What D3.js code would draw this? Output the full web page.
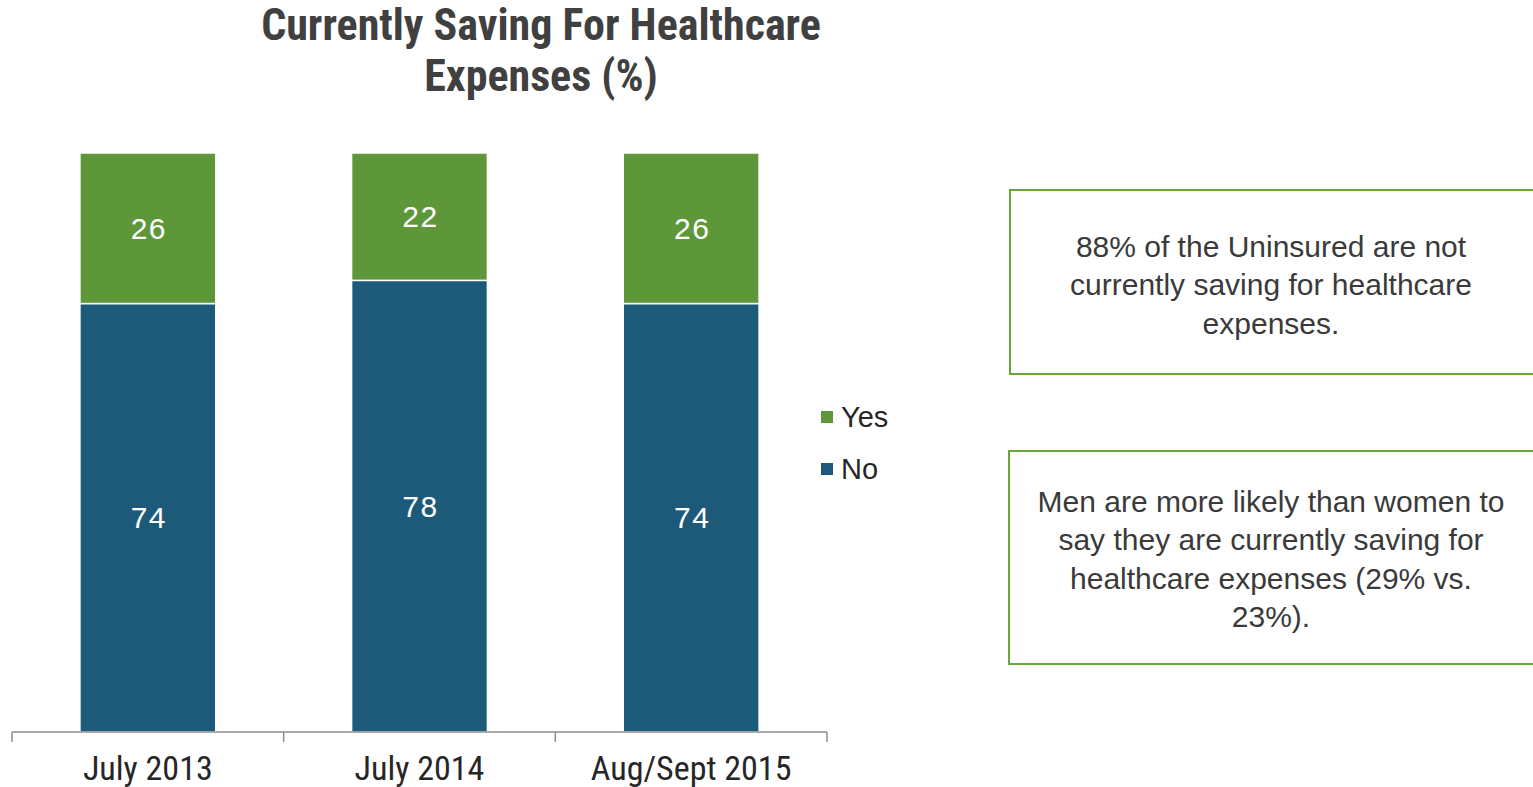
<!DOCTYPE html>
<html><head><meta charset="utf-8">
<script src="https://cdn.jsdelivr.net/npm/d3@7"></script>
<style>
html,body{margin:0;padding:0;background:#fff;}
svg{display:block;}
</style></head>
<body>
<svg id="c" width="1533" height="787"></svg>
<script>
const categories = ["July 2013", "July 2014", "Aug/Sept 2015"];
const noValues = [74, 78, 74];
const yesValues = [26, 22, 26];
const seriesNames = ["Yes", "No"];
const titleLines = ["Currently Saving For Healthcare", "Expenses (%)"];
const note1 = ["88% of the Uninsured are not", "currently saving for healthcare", "expenses."];
const note2 = ["Men are more likely than women to", "say they are currently saving for", "healthcare expenses (29% vs.", "23%)."];

const GREEN = "#5e9739", BLUE = "#1d5a7a";
const svg = d3.select("#c");
const narrow = "'Roboto Condensed', 'Liberation Sans Narrow', 'DejaVu Sans Condensed', sans-serif";
const body = "'Liberation Sans', Arial, sans-serif";

const x = d3.scaleBand().domain(categories).range([12, 827]).paddingInner(0.5).paddingOuter(0.25);
const y = d3.scaleLinear().domain([0, 100]).range([732, 153]);

// title
svg.append("g").selectAll("text").data(titleLines).join("text")
  .attr("x", 541).attr("y", (d, i) => 40 + i * 51)
  .attr("text-anchor", "middle")
  .attr("font-family", narrow).attr("font-weight", "bold").attr("font-size", 44)
  .attr("fill", "#404040").text(d => d);

const data = categories.map((c, i) => ({c, no: noValues[i], yes: yesValues[i]}));

const g = svg.append("g");
g.selectAll("rect.no").data(data).join("rect").attr("class", "no")
  .attr("x", d => x(d.c)).attr("width", x.bandwidth())
  .attr("y", d => y(d.no)).attr("height", d => y(0) - y(d.no))
  .attr("fill", BLUE).attr("stroke", "#fff").attr("stroke-width", 1.5);
g.selectAll("rect.yes").data(data).join("rect").attr("class", "yes")
  .attr("x", d => x(d.c)).attr("width", x.bandwidth())
  .attr("y", d => y(d.no + d.yes)).attr("height", d => y(d.no) - y(d.no + d.yes))
  .attr("fill", GREEN).attr("stroke", "#fff").attr("stroke-width", 1.5);

g.selectAll("text.nol").data(data).join("text")
  .attr("x", d => x(d.c) + x.bandwidth() / 2 + 1).attr("y", d => (y(0) + y(d.no)) / 2)
  .attr("dy", "0.35em").attr("text-anchor", "middle").attr("letter-spacing", 1.5)
  .attr("font-family", body).attr("font-size", 30).attr("fill", "#fff").text(d => d.no);
g.selectAll("text.yesl").data(data).join("text")
  .attr("x", d => x(d.c) + x.bandwidth() / 2 + 1).attr("y", d => (y(d.no) + y(d.no + d.yes)) / 2)
  .attr("dy", "0.35em").attr("text-anchor", "middle").attr("letter-spacing", 1.5)
  .attr("font-family", body).attr("font-size", 30).attr("fill", "#fff").text(d => d.yes);

// axis
const ax = svg.append("g").attr("transform", "translate(0,732)");
ax.append("line").attr("x1", 12).attr("x2", 827).attr("stroke", "#8c8c8c").attr("stroke-width", 1.5);
const tickPos = [12].concat(categories.map(c => x(c) + x.bandwidth() / 2 + x.step() / 2));
ax.selectAll("line.t").data(tickPos).join("line")
  .attr("x1", d => d).attr("x2", d => d).attr("y1", 0).attr("y2", 10)
  .attr("stroke", "#8c8c8c").attr("stroke-width", 1.5);
ax.selectAll("text").data(categories).join("text")
  .attr("x", d => x(d) + x.bandwidth() / 2).attr("y", 48)
  .attr("text-anchor", "middle").attr("font-family", narrow).attr("font-size", 34)
  .attr("fill", "#262626").text(d => d);

// legend
const colors = {Yes: GREEN, No: BLUE};
const lg = svg.append("g");
seriesNames.forEach((s, i) => {
  const cy = 417 + i * 52;
  lg.append("rect").attr("x", 821).attr("y", cy - 6).attr("width", 12).attr("height", 12).attr("fill", colors[s]);
  lg.append("text").attr("x", 841).attr("y", cy).attr("dy", "0.35em")
    .attr("font-family", body).attr("font-size", 29).attr("fill", "#262626").text(s);
});

// note boxes
function note(lines, x0, y0, w, h, firstCy) {
  const ng = svg.append("g");
  ng.append("rect").attr("x", x0).attr("y", y0).attr("width", w).attr("height", h)
    .attr("fill", "#fff").attr("stroke", "#6aa637").attr("stroke-width", 2);
  ng.selectAll("text").data(lines).join("text")
    .attr("x", 1271).attr("y", (d, i) => firstCy + i * 38.5).attr("dy", "0.35em")
    .attr("text-anchor", "middle").attr("font-family", body).attr("font-size", 30)
    .attr("fill", "#3a3a3a").text(d => d);
}
note(note1, 1010, 190, 530, 184, 246);
note(note2, 1009, 451, 530, 213, 501);
</script>
</body></html>
